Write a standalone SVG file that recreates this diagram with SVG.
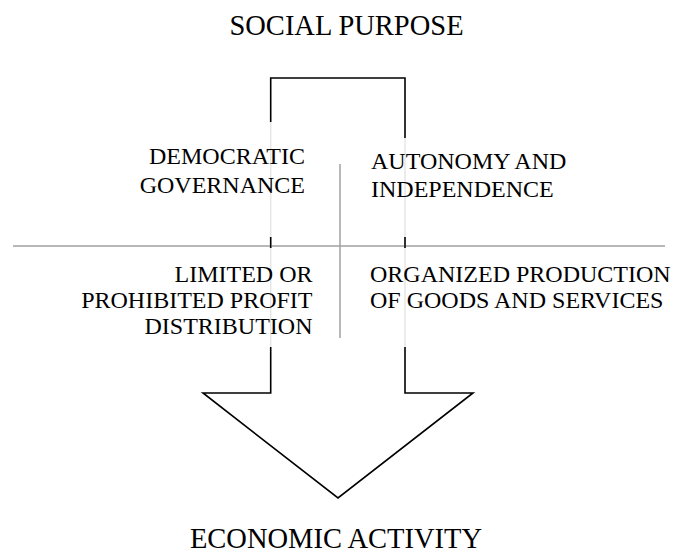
<svg xmlns="http://www.w3.org/2000/svg" width="675" height="554" viewBox="0 0 675 554">
<style>
text{font-family:"Liberation Serif","Times New Roman",serif;fill:#000;}
.lbl{font-size:24px;}
.ttl{font-size:28.5px;}
.blk{stroke:#000;stroke-width:1.6;fill:none;}
.faint{stroke:#e6e6e6;stroke-width:1.5;fill:none;}
.gry{stroke:#a0a0a0;stroke-width:1.5;fill:none;}
</style>
<rect width="675" height="554" fill="#fff"/>
<g id="connectors">
<line class="gry" x1="13" y1="246" x2="665" y2="246"/>
<line class="gry" x1="340" y1="164" x2="340" y2="338"/>
</g>
<g id="arrow">
<line class="faint" x1="270.7" y1="122" x2="270.7" y2="347"/>
<line class="faint" x1="405" y1="138" x2="405" y2="347"/>
<path class="blk" d="M270.7,122 V78 H405 V138"/>
<path class="blk" d="M270.7,347 V393 H203 L338,498 L473,393 H405 V347"/>
<line class="blk" x1="270.7" y1="237" x2="270.7" y2="248"/>
<line class="blk" x1="405" y1="237" x2="405" y2="248"/>
</g>
<g id="title-top"><text class="ttl" x="346.5" y="35" text-anchor="middle">SOCIAL PURPOSE</text></g>
<g id="title-bottom"><text class="ttl" x="336" y="548" text-anchor="middle">ECONOMIC ACTIVITY</text></g>
<g id="democratic"><text class="lbl" text-anchor="end"><tspan x="305" y="164">DEMOCRATIC</tspan><tspan x="305" y="193">GOVERNANCE</tspan></text></g>
<g id="autonomy"><text class="lbl"><tspan x="371" y="168.5">AUTONOMY AND</tspan><tspan x="371" y="197">INDEPENDENCE</tspan></text></g>
<g id="profit"><text class="lbl" text-anchor="end"><tspan x="312.5" y="282">LIMITED OR</tspan><tspan x="312.5" y="308">PROHIBITED PROFIT</tspan><tspan x="312.5" y="334">DISTRIBUTION</tspan></text></g>
<g id="production"><text class="lbl"><tspan x="370" y="282">ORGANIZED PRODUCTION</tspan><tspan x="370" y="308">OF GOODS AND SERVICES</tspan></text></g>
</svg>
